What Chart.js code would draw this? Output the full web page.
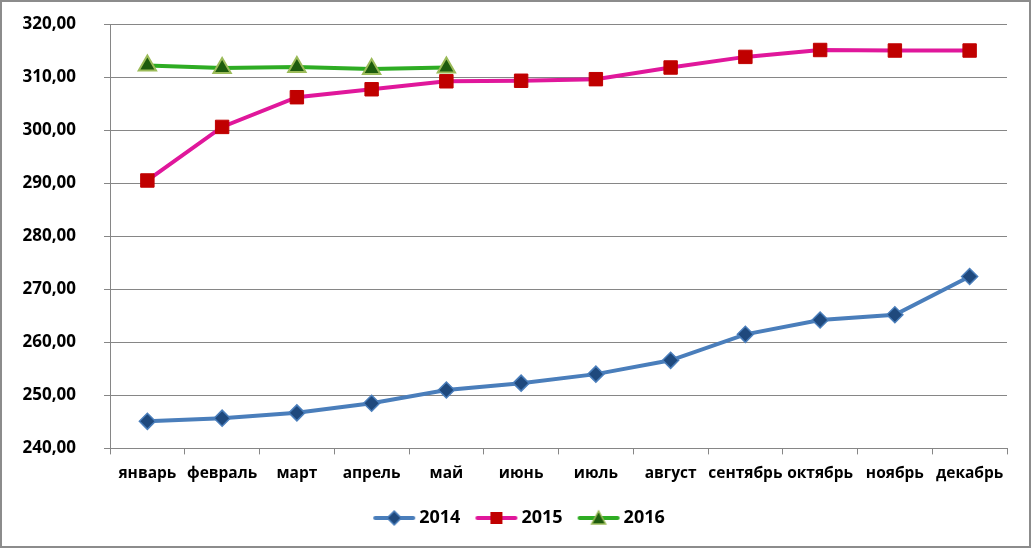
<!DOCTYPE html>
<html>
<head>
<meta charset="utf-8">
<script src="https://cdn.jsdelivr.net/npm/chart.js@4"></script>
<style>
  html, body { margin: 0; padding: 0; background: #fff; }
  #wrap { width: 1031px; height: 548px; position: relative; }
</style>
</head>
<body>
<div id="wrap"><canvas id="chart"></canvas></div>
<script>
const months = ['январь', 'февраль', 'март', 'апрель', 'май', 'июнь', 'июль', 'август', 'сентябрь', 'октябрь', 'ноябрь', 'декабрь'];
const values2014 = [245.1, 245.7, 246.7, 248.5, 251.0, 252.3, 254.0, 256.6, 261.5, 264.2, 265.2, 272.4];
const values2015 = [290.5, 300.6, 306.2, 307.7, 309.2, 309.3, 309.6, 311.8, 313.8, 315.1, 315.0, 315.0];
const values2016 = [312.2, 311.7, 311.9, 311.5, 311.8];
const yTicks = { min: 240, max: 320, step: 10 };

const FONT = "'Open Sans', sans-serif";
const GRID = '#868686';

// small legend image: line with marker in the middle
function legendIcon(lineColor, drawMarker) {
  const c = document.createElement('canvas');
  c.width = 50; c.height = 18;
  const g = c.getContext('2d');
  g.strokeStyle = lineColor;
  g.lineWidth = 4;
  g.lineCap = 'round';
  g.beginPath(); g.moveTo(8, 9); g.lineTo(46, 9); g.stroke();
  drawMarker(g, 27, 9);
  return c;
}

const icon2014 = legendIcon('#4a7ebb', (g, x, y) => {
  g.fillStyle = '#1f497d'; g.strokeStyle = '#4a7ebb'; g.lineWidth = 1.5;
  g.beginPath(); g.moveTo(x, y - 7); g.lineTo(x + 7, y); g.lineTo(x, y + 7); g.lineTo(x - 7, y); g.closePath();
  g.fill(); g.stroke();
});
const icon2015 = legendIcon('#e0179b', (g, x, y) => {
  g.fillStyle = '#c00000'; g.fillRect(x - 6, y - 6, 12, 12);
});
const icon2016 = legendIcon('#2eac23', (g, x, y) => {
  g.fillStyle = '#1e5c0e'; g.strokeStyle = '#9bbb59'; g.lineWidth = 1.5;
  g.beginPath(); g.moveTo(x, y - 7); g.lineTo(x + 7, y + 6); g.lineTo(x - 7, y + 6); g.closePath();
  g.fill(); g.stroke();
});
const icons = [icon2014, icon2015, icon2016];

const borderPlugin = {
  id: 'outerBorder',
  afterLayout(chart) {
    // centre the legend under the whole picture, as in the original
    if (chart.legend) {
      chart.legend.left += 16;
      chart.legend.right += 16;
    }
  },
  afterDraw(chart) {
    const ctx = chart.ctx;
    ctx.save();
    ctx.strokeStyle = '#8c8c8c';
    ctx.lineWidth = 2;
    ctx.strokeRect(1, 1, chart.width - 2, chart.height - 2);
    ctx.restore();
  }
};

new Chart(document.getElementById('chart'), {
  type: 'line',
  data: {
    labels: months,
    datasets: [
      {
        label: '2014',
        data: values2014,
        borderColor: '#4a7ebb',
        borderWidth: 4,
        pointStyle: 'rectRot',
        pointRadius: 8,
        pointBackgroundColor: '#1f497d',
        pointBorderColor: '#4a7ebb',
        pointBorderWidth: 1.5
      },
      {
        label: '2015',
        data: values2015,
        borderColor: '#e0179b',
        borderWidth: 4,
        pointStyle: 'rect',
        pointRadius: 9.5,
        pointBackgroundColor: '#c00000',
        pointBorderColor: '#c00000',
        pointBorderWidth: 1
      },
      {
        label: '2016',
        data: values2016,
        borderColor: '#2eac23',
        borderWidth: 4,
        pointStyle: 'triangle',
        pointRadius: 10,
        pointBackgroundColor: '#1e5c0e',
        pointBorderColor: '#9bbb59',
        pointBorderWidth: 2
      }
    ]
  },
  options: {
    responsive: true,
    maintainAspectRatio: false,
    animation: false,
    layout: { padding: { left: 0, right: 24, top: 24, bottom: 11 } },
    plugins: {
      tooltip: { enabled: false },
      legend: {
        position: 'bottom',
        labels: {
          usePointStyle: true,
          pointStyleWidth: 36,
          color: '#000',
          font: { family: FONT, size: 18, weight: 'bold' },
          padding: 16,
          generateLabels(chart) {
            return chart.data.datasets.map((ds, i) => ({
              text: ds.label,
              pointStyle: icons[i],
              fillStyle: ds.borderColor,
              strokeStyle: ds.borderColor,
              lineWidth: 0,
              hidden: false,
              datasetIndex: i
            }));
          }
        }
      }
    },
    scales: {
      x: {
        offset: true,
        grid: { offset: true, drawOnChartArea: false, color: GRID, tickLength: 6 },
        border: { color: GRID },
        ticks: {
          color: '#000',
          padding: 10,
          maxRotation: 0,
          autoSkip: false,
          font: { family: FONT, size: 15.5, weight: 'bold' }
        }
      },
      y: {
        min: yTicks.min,
        max: yTicks.max,
        grid: { color: GRID, tickLength: 6 },
        border: { color: GRID },
        ticks: {
          stepSize: yTicks.step,
          color: '#000',
          padding: 28,
          font: { family: FONT, size: 17, weight: 'bold' },
          callback: v => v.toFixed(2).replace('.', ',')
        },
        afterFit(scale) {
          scale.width = 110;
          scale.paddingTop = 0;
          scale.paddingBottom = 0;
        }
      }
    }
  },
  plugins: [borderPlugin]
});
</script>
</body>
</html>
